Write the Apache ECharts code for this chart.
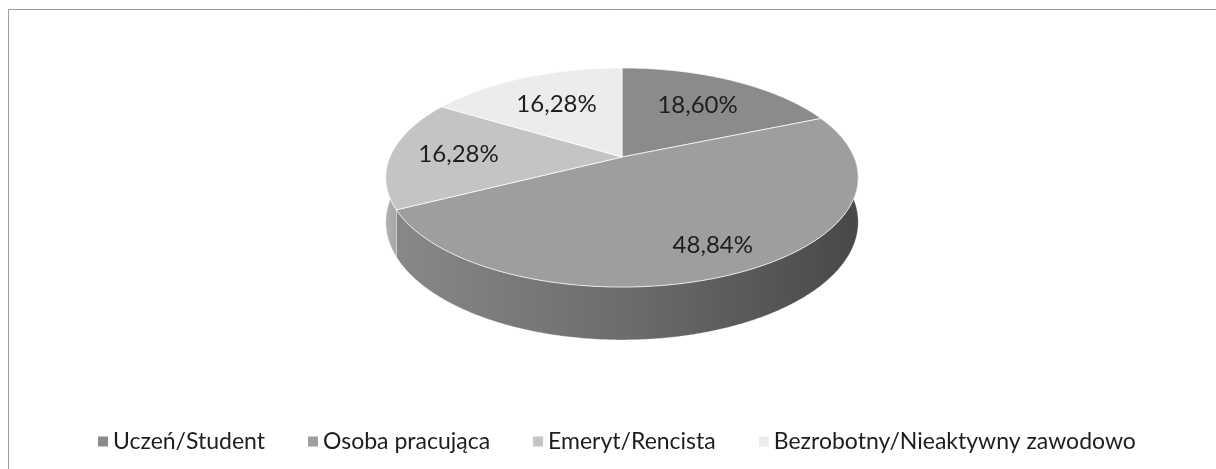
<!DOCTYPE html>
<html>
<head>
<meta charset="utf-8">
<script src="https://cdn.jsdelivr.net/npm/echarts@6/dist/echarts.min.js"></script>
<style>
  html, body { margin: 0; padding: 0; background: #fff; }
  #chart { width: 1216px; height: 469px; }
</style>
</head>
<body>
<div id="chart"></div>
<script>
// Respondents by occupation status (counts)
const categories = ['Uczeń/Student', 'Osoba pracująca', 'Emeryt/Rencista', 'Bezrobotny/Nieaktywny zawodowo'];
const counts = [8, 21, 7, 7];

// Shading of each slice: top face, wall colours
const topColors = ['#8b8b8b', '#9e9e9e', '#c4c4c4', '#ececec'];
const wallColors = [
  ['#6a6a6a', '#5a5a5a'],
  ['#888888', '#6c6c6c', '#484848'],
  ['#b2b2b2', '#a6a6a6'],
  ['#d8d8d8', '#cccccc']
];

const total = counts.reduce((a, b) => a + b, 0);
const formatPct = v => (v / total * 100).toFixed(2).replace('.', ',') + '%';

// Perspective disk geometry (angles measured clockwise from 12 o'clock)
const GEO = { cx: 622, cy: 157, a: 232, b: 105.7, p: 0.187, h: 43 };

function project(theta, f, drop) {
  const u = f * Math.sin(theta);
  const v = f * Math.cos(theta);
  const s = 1 / (1 + GEO.p * v);
  return [GEO.cx + GEO.a * u * s, GEO.cy - GEO.b * v * s + GEO.h * drop * s];
}

function arc(t0, t1, drop) {
  const pts = [];
  const n = Math.max(2, Math.ceil(Math.abs(t1 - t0) / (Math.PI / 360)));
  for (let i = 0; i <= n; i++) {
    pts.push(project(t0 + (t1 - t0) * i / n, 1, drop));
  }
  return pts;
}

function renderSlice(idx) {
  return function (params, api) {
    const value = api.value(0);
    let before = 0;
    for (let i = 0; i < idx; i++) before += counts[i];
    const t0 = before / total * 2 * Math.PI;
    const t1 = (before + value) / total * 2 * Math.PI;
    const children = [];

    // visible wall: front half of the rim (3 o'clock to 9 o'clock)
    const w0 = Math.max(t0, Math.PI / 2);
    const w1 = Math.min(t1, Math.PI * 3 / 2);
    if (w1 > w0) {
      const top = arc(w0, w1, 0);
      const bottom = arc(w0, w1, 1).reverse();
      const stops = wallColors[idx].map((c, k, arr) => ({ offset: arr.length === 1 ? 0 : k / (arr.length - 1), color: c }));
      children.push({
        type: 'polygon',
        z2: 1,
        shape: { points: top.concat(bottom) },
        style: {
          fill: { type: 'linear', x: 0, y: 0, x2: 1, y2: 0, colorStops: stops },
          stroke: 'rgba(255,255,255,0.35)',
          lineWidth: 0.8
        }
      });
    }

    // top face
    const face = [project(0, 0, 0)].concat(arc(t0, t1, 0));
    children.push({
      type: 'polygon',
      z2: 5,
      shape: { points: face },
      style: { fill: topColors[idx], stroke: 'rgba(255,255,255,0.7)', lineWidth: 1 }
    });

    // value label, pushed a little further out for wide slices and sideways directions
    const mid = (t0 + t1) / 2;
    const share = value / total;
    const pos = project(mid, 0.55 + 0.5 * share + 0.08 * Math.abs(Math.sin(mid)) * (1 - Math.abs(Math.cos(mid))), 0);
    children.push({
      type: 'text',
      z2: 10,
      style: {
        text: formatPct(value),
        x: pos[0],
        y: pos[1],
        fill: '#1e1e1e',
        fontSize: 24,
        fontFamily: 'Lato',
        align: 'center',
        verticalAlign: 'middle'
      }
    });

    return { type: 'group', children: children };
  };
}

const chart = echarts.init(document.getElementById('chart'), null, { renderer: 'canvas' });

chart.setOption({
  animation: false,
  backgroundColor: '#fff',
  graphic: [{
    type: 'rect',
    shape: { x: 8.5, y: 9.5, width: 1220, height: 480 },
    style: { fill: 'none', stroke: '#9a9a9a', lineWidth: 1 },
    silent: true,
    z: -10
  }],
  legend: {
    data: categories,
    left: 93,
    top: 425,
    icon: 'rect',
    itemWidth: 10,
    itemHeight: 10,
    itemGap: 43,
    textStyle: { fontFamily: 'Lato', fontSize: 23, color: '#1e1e1e' }
  },
  series: categories.map((name, i) => ({
    type: 'custom',
    name: name,
    coordinateSystem: 'none',
    itemStyle: { color: topColors[i] },
    data: [[counts[i]]],
    renderItem: renderSlice(i)
  }))
});
</script>
</body>
</html>
